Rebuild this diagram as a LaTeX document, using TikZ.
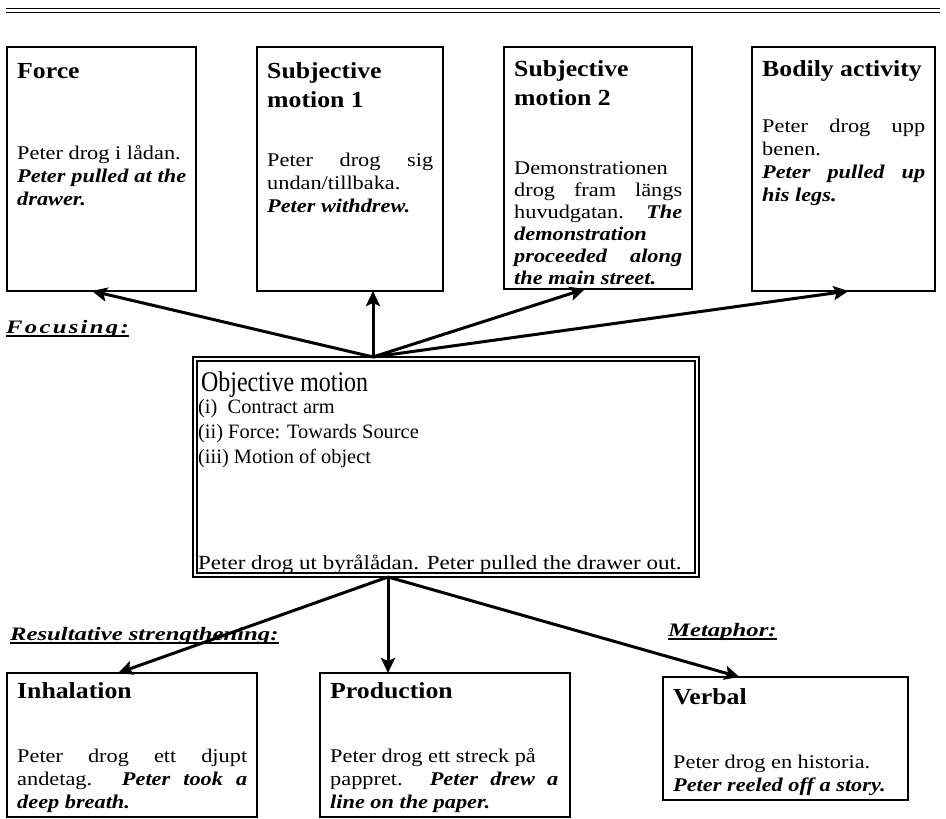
\documentclass[tikz,border=0pt]{standalone}
\usepackage{fontspec}
\setmainfont{Liberation Serif}[FakeStretch=1.15]
\newfontfamily\ttlfam{Liberation Serif}[FakeStretch=1.12]
\newfontfamily\lblfam{Liberation Serif}[FakeStretch=1.3]
\newfontfamily\objfam{Liberation Serif}[FakeStretch=0.84]
\newfontfamily\listfam{Liberation Serif}[FakeStretch=1.0]
\usetikzlibrary{arrows.meta}
\newcommand\bodyf{\fontsize{19.4}{23}\selectfont}
\newcommand\ttlf{\ttlfam\bfseries\fontsize{23}{29}\selectfont}
\newcommand\bi[1]{{\bfseries\itshape #1}}
\newcommand\jl[1]{\makebox[\linewidth][s]{#1}}
\newcommand\blk[2]{\parbox[t]{#1pt}{\bodyf #2}}
\tikzset{
 box/.style={draw, line width=2pt, inner sep=0pt, outer sep=0pt, anchor=north west},
 txt/.style={inner sep=0pt, anchor=base west},
 arr/.style={line width=3pt, -{Stealth[length=15pt,width=14pt,inset=3pt]}},
 lbl/.style={inner sep=0pt, anchor=base west, font=\lblfam\bfseries\itshape\fontsize{19}{22}\selectfont},
 uline/.style={line width=1.2pt},
}
\begin{document}
\begin{tikzpicture}[x=1pt,y=-1pt]
\useasboundingbox (0,0) rectangle (946,819);
\fill[white] (0,0) rectangle (946,819);
% top rule
\draw[line width=1.6pt] (6,8.5) -- (940,8.5);
\draw[line width=0.9pt] (6,12.5) -- (940,12.5);

% boxes
\node[box, minimum width=189pt, minimum height=244pt] (force) at (7,47) {};
\node[box, minimum width=186pt, minimum height=244pt] (sm1) at (257,47) {};
\node[box, minimum width=188pt, minimum height=242pt] (sm2) at (504,47) {};
\node[box, minimum width=183pt, minimum height=244pt] (bod) at (752,47) {};
\node[box, minimum width=506pt, minimum height=220pt] (obj) at (193,357) {};
\draw[line width=1.2pt] ([shift={(4pt,4pt)}]obj.south west) rectangle ([shift={(-4pt,-4pt)}]obj.north east);
\node[box, minimum width=250pt, minimum height=144pt] (inh) at (7,673) {};
\node[box, minimum width=250pt, minimum height=144pt] (prod) at (320,673) {};
\node[box, minimum width=245pt, minimum height=123pt] (verb) at (663,677) {};

% top texts
\node[txt] (forceT) at (17,78) {\ttlf Force};
\node[txt] (forceB) at (17,159) {\blk{169}{Peter drog i lådan.\\ \jl{\bi{Peter pulled at the}}\\ \bi{drawer.}}};

\node[txt] (sm1T) at (267,78) {\parbox[t]{170pt}{\ttlf Subjective\\ motion 1}};
\node[txt] (sm1B) at (267,166) {\blk{166}{\jl{Peter drog sig}\\ undan/tillbaka.\\ \bi{Peter withdrew.}}};

\node[txt] (sm2T) at (514,76) {\parbox[t]{170pt}{\ttlf Subjective\\ motion 2}};
\node[txt] (sm2B) at (514,174) {\blk{168}{\setlength\baselineskip{22pt}Demonstrationen\\ \jl{drog fram längs}\\ \jl{huvudgatan. \bi{The}}\\ \bi{demonstration}\\ \jl{\bi{proceeded along}}\\ \bi{the main street.}}};

\node[txt] (bodT) at (762,76) {\ttlf Bodily activity};
\node[txt] (bodB) at (762,132) {\blk{163}{\jl{Peter drog upp}\\ benen.\\ \jl{\bi{Peter pulled up}}\\ \bi{his legs.}}};

% center texts
\node[txt] (objT) at (201,391) {\objfam\fontsize{28.5}{30}\selectfont Objective motion};
\node[txt] (objL) at (198,413) {\parbox[t]{400pt}{\listfam\fontsize{20.4}{25}\selectfont (i)\ \ Contract arm\\ (ii) Force: Towards Source\\ (iii) Motion of object}};
\node[txt] (objE) at (198,569) {\fontsize{20}{23}\selectfont Peter drog ut byrålådan. Peter pulled the drawer out.};

% bottom texts
\node[txt] (inhT) at (17,698) {\ttlf Inhalation};
\node[txt] (inhB) at (17,762) {\blk{230}{\jl{Peter drog ett djupt}\\ \jl{andetag. \bi{Peter took a}}\\ \bi{deep breath.}}};
\node[txt] (prodT) at (330,698) {\ttlf Production};
\node[txt] (prodB) at (330,762) {\blk{228}{Peter drog ett streck på\\ \jl{pappret. \bi{Peter drew a}}\\ \bi{line on the paper.}}};
\node[txt] (verbT) at (673,704) {\ttlf Verbal};
\node[txt] (verbB) at (673,768) {\blk{225}{Peter drog en historia.\\ \bi{Peter reeled off a story.}}};

% labels
\node[lbl] (foc) at (6,333) {\addfontfeature{LetterSpace=12}Focusing:};
\node[lbl] (res) at (10,640) {Resultative strengthening:};
\node[lbl] (met) at (668,636) {Metaphor:};
\foreach \n in {foc,res,met}
  \draw[uline] ([yshift=-3pt]\n.base west) -- ([yshift=-3pt]\n.base east);

% arrows
\coordinate (top) at ([xshift=-73pt]obj.north);
\coordinate (bot) at ([xshift=-58pt]obj.south);
\draw[arr] (top) -- ([xshift=-9.5pt]force.south);
\draw[arr] (top) -- ([xshift=23pt]sm1.south);
\draw[arr] (top) -- ([xshift=-13pt]sm2.south);
\draw[arr] (top) -- ([xshift=5pt]bod.south);
\draw[arr] (bot) -- ([xshift=-14pt]inh.north);
\draw[arr] (bot) -- ([xshift=-57pt]prod.north);
\draw[arr] (bot) -- ([xshift=-46pt]verb.north);
\end{tikzpicture}
\end{document}
